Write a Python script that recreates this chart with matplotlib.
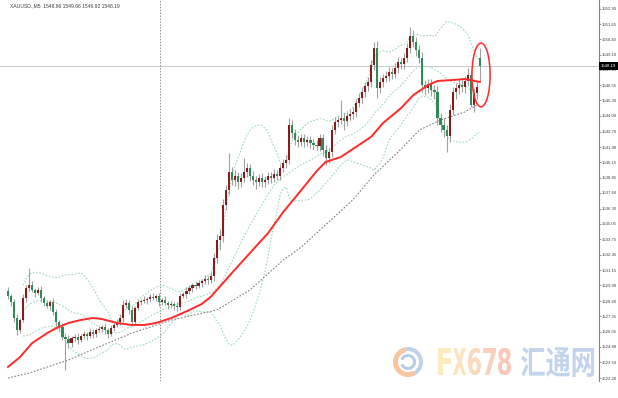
import numpy as np
import pandas as pd
import matplotlib
matplotlib.use("Agg")
import matplotlib.pyplot as plt
from matplotlib.patches import Ellipse, PathPatch, Rectangle, Wedge
from matplotlib.textpath import TextPath
from matplotlib.font_manager import FontProperties
from matplotlib.transforms import Affine2D, IdentityTransform

# XAUUSD M5 closes
closes = [
    1529.02, 1528.52, 1527.19, 1526.19, 1527.02, 1528.85, 1529.69, 1529.94, 1529.52, 1529.27,
    1529.52, 1528.85, 1528.44, 1528.19, 1528.52, 1527.69, 1526.86, 1526.44, 1525.61, 1525.44,
    1525.11, 1525.53, 1525.61, 1525.36, 1525.69, 1525.86, 1525.69, 1526.03, 1525.86, 1526.19,
    1526.27, 1526.44, 1526.19, 1525.86, 1526.36, 1526.61, 1526.86, 1527.19, 1528.27, 1528.44,
    1527.85, 1526.86, 1528.02, 1528.52, 1528.60, 1528.69, 1528.77, 1528.94, 1528.85, 1529.02,
    1528.52, 1528.69, 1528.44, 1528.27, 1528.35, 1528.19, 1528.10, 1529.02, 1529.19, 1529.44,
    1529.69, 1529.94, 1529.85, 1530.10, 1530.27, 1530.44, 1530.35, 1530.68, 1532.18, 1533.68,
    1534.01, 1536.59, 1537.84, 1539.34, 1538.67, 1539.00, 1538.50, 1538.84, 1539.34, 1539.67,
    1539.00, 1538.67, 1538.50, 1538.84, 1538.50, 1538.67, 1539.00, 1538.84, 1539.17, 1539.00,
    1539.67, 1540.08, 1540.33, 1543.25, 1542.58, 1542.00, 1541.83, 1542.17, 1541.83, 1542.00,
    1541.75, 1541.58, 1541.50, 1542.17, 1541.17, 1540.50, 1541.00, 1542.83, 1543.50, 1543.66,
    1543.83, 1543.58, 1543.99, 1544.16, 1544.33, 1545.08, 1545.49, 1545.99, 1546.49, 1546.83,
    1548.24, 1549.65, 1546.33, 1546.83, 1547.16, 1547.33, 1547.66, 1547.49, 1547.99, 1548.49,
    1548.32, 1548.82, 1549.65, 1550.65, 1550.15, 1549.49, 1548.82, 1546.58, 1546.33, 1546.66,
    1546.16, 1545.99, 1543.83, 1543.25, 1542.83, 1542.33, 1544.50, 1545.99, 1546.33, 1546.58,
    1546.41, 1546.91, 1547.41, 1544.91, 1545.91, 1546.41, 1548.19,
]
first_open = 1529.40
last_open = 1548.86

wick_up = [
    0.35, 0.20, 0.25, 0.30, 0.20, 0.30, 0.25, 1.40, 0.30, 0.20,
    0.25, 0.30, 0.20, 0.25, 0.20, 0.30, 0.25, 0.20, 0.30, 0.35,
    0.30, 0.20, 0.25, 0.30, 0.20, 0.25, 0.20, 0.30, 0.25, 0.20,
    0.25, 0.20, 0.30, 0.20, 0.25, 0.20, 0.25, 0.30, 0.40, 0.30,
    0.25, 0.30, 0.20, 0.25, 0.20, 0.30, 0.20, 0.25, 0.30, 0.20,
    0.25, 0.20, 0.30, 0.20, 0.25, 0.20, 0.30, 0.25, 0.20, 0.30,
    0.25, 0.20, 0.30, 0.25, 0.20, 0.30, 0.25, 0.30, 0.40, 0.50,
    0.60, 0.50, 0.45, 1.60, 0.40, 0.50, 0.35, 0.40, 1.20, 0.45,
    0.35, 0.40, 0.30, 0.35, 0.40, 0.30, 0.35, 0.30, 0.40, 0.35,
    0.30, 0.35, 0.40, 0.60, 0.45, 0.35, 0.40, 0.30, 0.35, 0.30,
    0.35, 0.30, 0.40, 0.35, 0.30, 0.40, 0.35, 0.45, 0.40, 0.35,
    1.50, 0.40, 0.35, 0.45, 0.40, 0.35, 0.40, 0.45, 0.35, 0.40,
    0.40, 0.50, 0.60, 0.40, 0.35, 0.45, 0.40, 0.35, 0.45, 0.40,
    0.35, 0.40, 0.45, 0.75, 0.50, 0.40, 0.45, 0.50, 0.40, 0.45,
    0.40, 0.45, 0.50, 0.40, 0.55, 0.45, 0.50, 0.45, 0.40, 0.50,
    0.45, 0.40, 0.60, 0.45, 0.40, 0.50, 0.80,
]
wick_dn = [
    0.25, 0.30, 0.35, 0.40, 0.25, 0.20, 0.30, 0.25, 0.20, 0.30,
    0.20, 0.30, 0.25, 0.20, 0.30, 0.25, 0.35, 0.30, 0.25, 2.60,
    0.40, 0.30, 0.25, 0.30, 0.20, 0.25, 0.30, 0.20, 0.35, 0.25,
    0.20, 0.25, 0.30, 0.35, 0.20, 0.25, 0.20, 0.25, 0.30, 0.25,
    0.30, 0.35, 0.25, 0.20, 0.25, 0.20, 0.30, 0.25, 0.20, 0.25,
    0.30, 0.25, 0.20, 0.30, 0.25, 0.30, 0.35, 0.25, 0.20, 0.30,
    0.25, 0.30, 0.25, 0.20, 0.30, 0.25, 0.30, 0.25, 0.40, 0.45,
    0.80, 0.50, 0.40, 0.45, 0.40, 0.50, 0.60, 0.40, 0.35, 0.40,
    0.45, 0.40, 0.60, 0.35, 0.45, 0.40, 0.35, 0.40, 0.35, 0.30,
    0.35, 0.30, 0.40, 0.35, 0.40, 0.45, 0.40, 0.35, 0.40, 0.35,
    0.40, 0.45, 0.35, 0.40, 0.50, 0.60, 0.45, 0.40, 0.35, 0.40,
    0.35, 0.75, 0.40, 0.35, 0.45, 0.40, 0.35, 0.40, 0.45, 0.40,
    0.45, 0.40, 0.85, 0.45, 0.40, 0.35, 0.45, 0.40, 0.35, 0.45,
    0.40, 0.45, 0.35, 0.40, 0.45, 0.50, 0.45, 0.60, 0.55, 0.45,
    0.50, 0.55, 0.60, 0.55, 0.60, 1.35, 0.50, 0.45, 0.55, 0.50,
    0.45, 0.50, 0.40, 0.20, 0.55, 0.50, 1.27,
]

# red moving average, sampled at candle index
ma_red_idx = [0, 4, 8, 13, 16, 20, 24, 28, 31, 36, 41, 45, 49, 54, 60, 64, 67, 74, 80, 86, 91,
              97, 102, 105, 110, 116, 120, 124, 130, 134, 139, 142, 147, 151, 156]
ma_red_val = [1523.12, 1523.95, 1525.11, 1525.94, 1526.36, 1526.78, 1527.02, 1527.19, 1527.11,
              1526.78, 1526.61, 1526.61, 1526.78, 1527.19, 1527.86, 1528.35, 1528.94, 1530.93,
              1532.60, 1534.26, 1536.01, 1537.84, 1539.40, 1540.17, 1540.58, 1541.58, 1542.25,
              1543.41, 1544.66, 1545.74, 1546.58, 1546.91, 1546.99, 1547.07, 1546.83]

# slow gray moving average
ma_gray_idx = [0, 7, 20, 30, 41, 54, 69, 80, 91, 97, 114, 121, 130, 136, 143, 151, 155]
ma_gray_val = [1522.20, 1522.61, 1523.70, 1524.78, 1525.94, 1527.02, 1527.86, 1529.52, 1532.01,
               1533.10, 1537.01, 1539.09, 1541.25, 1542.83, 1543.66, 1544.33, 1544.91]

ytick_labels = ["1552.90", "1551.65", "1550.40", "1549.10", "1547.85", "1546.55", "1545.30",
                "1544.00", "1542.70", "1541.40", "1540.15", "1538.85", "1537.60", "1536.30",
                "1535.05", "1533.75", "1532.45", "1531.15", "1529.90", "1528.60", "1527.35",
                "1526.05", "1524.80", "1523.50", "1522.20"]
title_text = "XAUUSD.,M5  1548.86 1549.66 1546.92 1548.19"
last_price = 1548.19
separator_idx = 50.3
ellipse_center = (156.4, 1547.41)
ellipse_size = (6.0, 5.3)

W, H = 618, 398
fig = plt.figure(figsize=(W / 100, H / 100), dpi=100)
ax = fig.add_axes([0, 17 / H, 599 / W, 381 / H])

closes_a = np.array(closes)
opens = np.array([first_open] + closes[:-1])
opens[-1] = last_open
x = np.arange(len(closes))
highs = np.maximum(opens, closes_a) + np.array(wick_up)
lows = np.minimum(opens, closes_a) - np.array(wick_dn)

# bollinger bands (20, 2)
s = pd.Series(closes_a)
mid = s.rolling(20, min_periods=6).mean()
sd = s.rolling(20, min_periods=6).std(ddof=0)
band_col = "#9adcb6"
for b in [mid, mid + 2 * sd, mid - 2 * sd]:
    ax.plot(x, b, color=band_col, lw=0.8, ls=(0, (1.5, 1.5)), zorder=1)

ax.plot(ma_gray_idx, ma_gray_val, color="#808080", lw=0.8, ls=(0, (1.5, 1.5)), zorder=2)

# current price line and period separator
ax.axhline(last_price, color="#c8c8c8", lw=0.7, zorder=0)
ax.axvline(separator_idx, color="#909090", lw=0.7, ls=(0, (1.5, 1.5)), zorder=0)

# candles
up = closes_a >= opens
ax.vlines(x, lows, highs, color="#a0a0a0", lw=0.8, zorder=3)
body = np.maximum(np.abs(closes_a - opens), 0.06)
ax.bar(x, body, bottom=np.minimum(opens, closes_a), width=0.7,
       color=np.where(up, "#8b1a1a", "#2e8b57"), lw=0, zorder=4)

ax.plot(ma_red_idx, ma_red_val, color="#ff2a2a", lw=1.4, zorder=5)

ax.add_patch(Ellipse(ellipse_center, ellipse_size[0], ellipse_size[1],
                     fill=False, ec="#ff2a2a", lw=1.1, zorder=6))

# axes
y_per_px = (1551.65 - 1522.20) / 354
ax.set_ylim(1551.65 - 381 * y_per_px + 24 * y_per_px, 1551.65 + 24 * y_per_px)
ax.set_xlim(-2.645, 195.4)
ax.yaxis.tick_right()
ax.set_yticks([float(t) for t in ytick_labels])
ax.set_yticklabels(ytick_labels, family="Liberation Sans")
ax.tick_params(axis="y", length=1.2, width=0.5, color="#707070", labelsize=3.1,
               labelcolor="#404040", pad=0.6)
ax.set_xticks([])
for side in ["top", "left", "bottom"]:
    ax.spines[side].set_visible(False)
ax.spines["right"].set_color("#808080")
ax.spines["right"].set_linewidth(0.8)

ax.text(10 / 599, 1 - 6 / 381, title_text, transform=ax.transAxes, fontsize=3.6,
        family="Liberation Sans", color="#404040", va="center", ha="left")

# current price tag
fig.add_artist(Rectangle((599, H - 70), 19, 8, transform=IdentityTransform(),
                         facecolor="black", edgecolor="none"))
fig.text(608.5 / W, 1 - 66 / H, f"{last_price:.2f}", color="white", fontsize=3.1,
         family="Liberation Sans", ha="center", va="center")


# watermark drawn as text outlines fitted to boxes (pixel coords, top-left origin)
def fit_text(s, box, color, family, alpha=0.7):
    tp = TextPath((0, 0), s, size=10, prop=FontProperties(family=family, weight="bold"))
    ext = tp.get_extents()
    x0, y0, x1, y1 = box
    tr = (Affine2D().translate(-ext.x0, -ext.y0)
          .scale((x1 - x0) / ext.width, (y1 - y0) / ext.height)
          .translate(x0, H - y1))
    fig.add_artist(PathPatch(tr.transform_path(tp), transform=IdentityTransform(),
                             facecolor=color, edgecolor="none", alpha=alpha))


fx_cols = ["#fde4a6", "#fcd6a2", "#fbc8a0", "#f9bb9e", "#f7b19c"]
for k, ch in enumerate("FX678"):
    fit_text(ch, (438 + k * 15, 348, 438 + k * 15 + 13, 375), fx_cols[k], "DejaVu Sans")
fit_text("汇通网", (521, 347, 594, 377), "#a9c3e3", ["Noto Sans CJK SC", "DejaVu Sans"])

cx, cy = 408, H - 362
fig.add_artist(Wedge((cx, cy), 15, 100, 300, width=5, transform=IdentityTransform(),
                     facecolor="#f7b27e", edgecolor="none", alpha=0.75))
fig.add_artist(Wedge((cx, cy), 15, 300, 460, width=4, transform=IdentityTransform(),
                     facecolor="#a9c3e3", edgecolor="none", alpha=0.75))
fig.add_artist(Wedge((cx, cy), 8, 200, 520, width=3, transform=IdentityTransform(),
                     facecolor="#9dbbe0", edgecolor="none", alpha=0.75))

fig.savefig("out.png", dpi=100, facecolor="white")
